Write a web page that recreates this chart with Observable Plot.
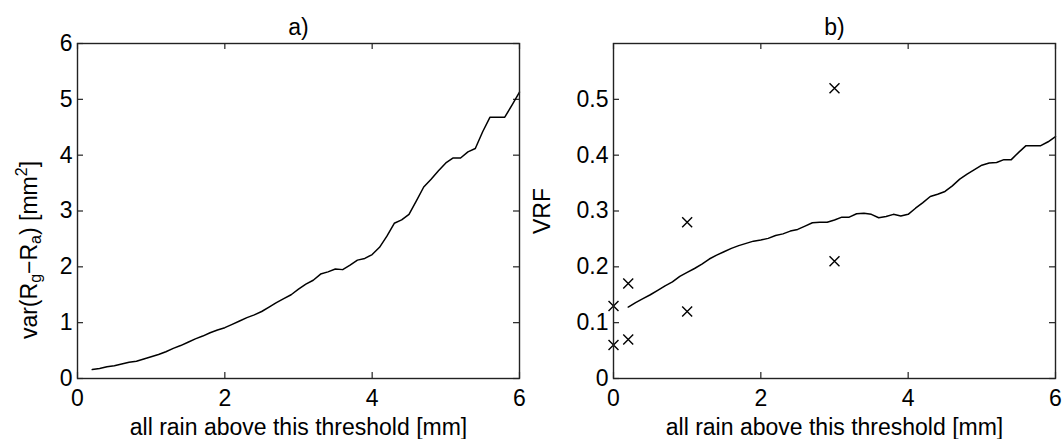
<!DOCTYPE html>
<html><head><meta charset="utf-8">
<script src="https://cdn.jsdelivr.net/npm/d3@7"></script>
<script src="https://cdn.jsdelivr.net/npm/@observablehq/plot@0.6"></script>
<style>
html,body{margin:0;padding:0;background:#fff;}
#wrap{display:flex;width:1064px;height:439px;overflow:hidden;}
#wrap svg{display:block;}
</style></head><body><div id="wrap"></div>
<script>
// thresholds [mm]
const thresholds = [0.2,0.3,0.4,0.5,0.6,0.7,0.8,0.9,1.0,1.1,1.2,1.3,1.4,1.5,1.6,1.7,1.8,1.9,2.0,
  2.1,2.2,2.3,2.4,2.5,2.6,2.7,2.8,2.9,3.0,3.1,3.2,3.3,3.4,3.5,3.6,3.7,3.8,3.9,4.0,
  4.1,4.2,4.3,4.4,4.5,4.6,4.7,4.8,4.9,5.0,5.1,5.2,5.3,5.4,5.5,5.6,5.7,5.8,5.9,6.0];
// panel a: var(Rg - Ra) [mm^2]
const varDiff = [0.16,0.18,0.21,0.23,0.26,0.29,0.31,0.35,0.39,0.43,0.48,0.54,0.59,0.65,0.71,0.76,0.82,0.87,0.91,
  0.97,1.03,1.09,1.14,1.20,1.28,1.36,1.43,1.50,1.60,1.69,1.76,1.87,1.91,1.96,1.95,2.03,2.12,2.15,2.22,
  2.35,2.55,2.78,2.84,2.94,3.18,3.43,3.57,3.72,3.86,3.95,3.95,4.06,4.12,4.42,4.68,4.68,4.68,4.90,5.13];
// panel b: VRF
const vrf = [0.128,0.136,0.143,0.150,0.158,0.166,0.173,0.183,0.190,0.197,0.205,0.214,0.221,0.227,0.233,0.238,0.242,0.246,0.248,
  0.251,0.256,0.259,0.264,0.267,0.273,0.279,0.280,0.280,0.284,0.289,0.289,0.295,0.296,0.294,0.288,0.290,0.294,0.291,0.294,
  0.305,0.315,0.326,0.330,0.335,0.345,0.357,0.366,0.374,0.382,0.386,0.387,0.392,0.392,0.405,0.417,0.417,0.417,0.424,0.433];
// panel b: individual VRF estimates (crosses)
const crossX = [0, 0, 0.2, 0.2, 1, 1, 3, 3];
const crossY = [0.13, 0.06, 0.17, 0.07, 0.28, 0.12, 0.52, 0.21];
// ticks and labels
const xTicks = [0, 2, 4, 6];
const yTicksA = [0, 1, 2, 3, 4, 5, 6];
const yTicksB = [0, 0.1, 0.2, 0.3, 0.4, 0.5];
const xLabel = "all rain above this threshold [mm]";
const titleA = "a)";
const titleB = "b)";
const yLabelB = "VRF";

const W = 532, H = 439;
const mTop = 43, mBottom = 61;
const plotH = H - mTop - mBottom;
const tick = 6;
const tickFont = 23;
const labelFont = 23;
const font = {fontFamily: "'Liberation Sans', Arial, Helvetica, sans-serif", fontSize: "23px", color: "#000", background: "#fff", overflow: "visible"};

function ticksMarks(xT, yT, plotW) {
  return [
    Plot.ruleX(xT, {x: d => d, insetTop: plotH - tick, stroke: "#222", strokeWidth: 1.2}),
    Plot.ruleX(xT, {x: d => d, insetBottom: plotH - tick, stroke: "#222", strokeWidth: 1.2}),
    Plot.ruleY(yT, {y: d => d, insetRight: plotW - tick, stroke: "#222", strokeWidth: 1.2}),
    Plot.ruleY(yT, {y: d => d, insetLeft: plotW - tick, stroke: "#222", strokeWidth: 1.2})
  ];
}

// Panel a
const mlA = 77, mrA = 13;
const dataA = thresholds.map((t, i) => ({t, v: varDiff[i]}));
const svgA = Plot.plot({
  width: W, height: H,
  marginLeft: mlA, marginRight: mrA, marginTop: mTop, marginBottom: mBottom,
  style: font,
  x: {domain: [0, 6]},
  y: {domain: [0, 6]},
  marks: [
    ...ticksMarks(xTicks, yTicksA, W - mlA - mrA),
    Plot.axisX(xTicks, {anchor: "bottom", tickSize: 0, tickPadding: 11, fontSize: tickFont, tickFormat: d => String(d), label: null}),
    Plot.axisX({anchor: "bottom", ticks: [], tickSize: 0, label: xLabel, labelAnchor: "center", labelArrow: "none", labelOffset: 56, fontSize: labelFont}),
    Plot.axisY(yTicksA, {anchor: "left", tickSize: 0, tickPadding: 5, fontSize: tickFont, tickFormat: d => String(d), label: null}),
    Plot.line(dataA, {x: "t", y: "v", stroke: "#000", strokeWidth: 1.5}),
    Plot.frame({stroke: "#222", strokeWidth: 1.4}),
    Plot.text([titleA], {text: d => d, frameAnchor: "top", dy: -25, fontSize: labelFont})
  ]
});

// y label with subscripts / superscript as real text
{
  const t = d3.select(svgA).append("text")
    .attr("transform", "translate(31,250) rotate(-90)")
    .attr("text-anchor", "middle")
    .attr("dominant-baseline", "middle")
    .attr("font-size", "23px")
    .attr("fill", "#000");
  t.append("tspan").text("var(R");
  t.append("tspan").attr("font-size", "16px").attr("dy", "6").text("g");
  t.append("tspan").attr("dy", "-6").text("\u2212R");
  t.append("tspan").attr("font-size", "16px").attr("dy", "6").text("a");
  t.append("tspan").attr("dy", "-6").text(") [mm");
  t.append("tspan").attr("font-size", "16px").attr("dy", "-8").text("2");
  t.append("tspan").attr("dy", "8").text("]");
}

// Panel b
const mlB = 81, mrB = 9;
const dataB = thresholds.map((t, i) => ({t, v: vrf[i]}));
const crosses = crossX.map((x, i) => ({x, y: crossY[i]}));
const svgB = Plot.plot({
  width: W, height: H,
  marginLeft: mlB, marginRight: mrB, marginTop: mTop, marginBottom: mBottom,
  style: font,
  x: {domain: [0, 6]},
  y: {domain: [0, 0.6]},
  marks: [
    ...ticksMarks(xTicks, yTicksB, W - mlB - mrB),
    Plot.axisX(xTicks, {anchor: "bottom", tickSize: 0, tickPadding: 11, fontSize: tickFont, tickFormat: d => String(d), label: null}),
    Plot.axisX({anchor: "bottom", ticks: [], tickSize: 0, label: xLabel, labelAnchor: "center", labelArrow: "none", labelOffset: 56, fontSize: labelFont}),
    Plot.axisY(yTicksB, {anchor: "left", tickSize: 0, tickPadding: 5, fontSize: tickFont, tickFormat: d => String(d), label: null}),
    Plot.axisY({anchor: "left", ticks: [], tickSize: 0, label: yLabelB, labelAnchor: "center", labelArrow: "none", labelOffset: 80, fontSize: labelFont}),
    Plot.line(dataB, {x: "t", y: "v", stroke: "#000", strokeWidth: 1.5}),
    Plot.dot(crosses, {x: "x", y: "y", symbol: "times", r: 4.6, stroke: "#000", strokeWidth: 1.4}),
    Plot.frame({stroke: "#222", strokeWidth: 1.4}),
    Plot.text([titleB], {text: d => d, frameAnchor: "top", dy: -25, fontSize: labelFont})
  ]
});

document.getElementById("wrap").append(svgA, svgB);
</script>
</body></html>
